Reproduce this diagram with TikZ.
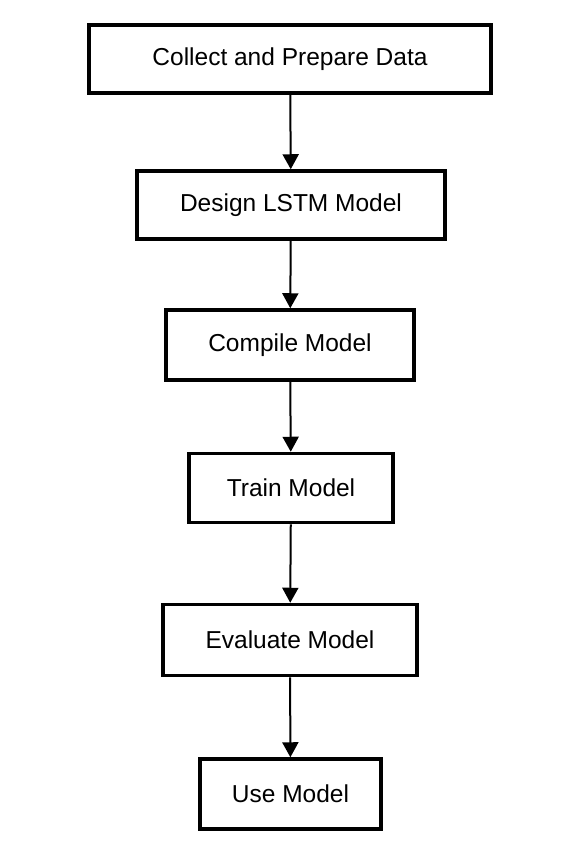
\documentclass[tikz,border=0pt]{standalone}
\usepackage{fontspec}
\setmainfont{Liberation Sans}
\usetikzlibrary{arrows.meta}

\begin{document}
\begin{tikzpicture}[x=1pt,y=-1pt]
                \useasboundingbox (0,0) rectangle (565,856);
                \tikzstyle{stage}=[draw,line width=3.5pt,inner sep=0pt,font=\fontsize{24.5}{28}\selectfont]
                \tikzstyle{flow}=[line width=2pt,-{Triangle[width=16pt,length=15pt]}]
                \newcommand\stagebox[6]{\node[stage,minimum width=#4,minimum height=#5] at (#1,#2) (#3) {#6};}
                \stagebox{290}{59}{collect}{402pt}{68pt}{Collect and Prepare Data};
                \stagebox{291}{205}{design}{308pt}{68pt}{Design LSTM Model};
                \stagebox{290}{345}{compile}{248pt}{70pt}{Compile Model};
                \stagebox{291}{488}{train}{204pt}{69pt}{Train Model};
                \stagebox{290}{640}{evaluate}{254pt}{71pt}{Evaluate Model};
                \stagebox{290.5}{794}{use}{181pt}{70pt}{Use Model};
                \foreach \from/\to in {collect/design,design/compile,compile/train,train/evaluate,evaluate/use}
                    \draw[flow] (\from) -- (\to);
            \end{tikzpicture}
\end{document}
